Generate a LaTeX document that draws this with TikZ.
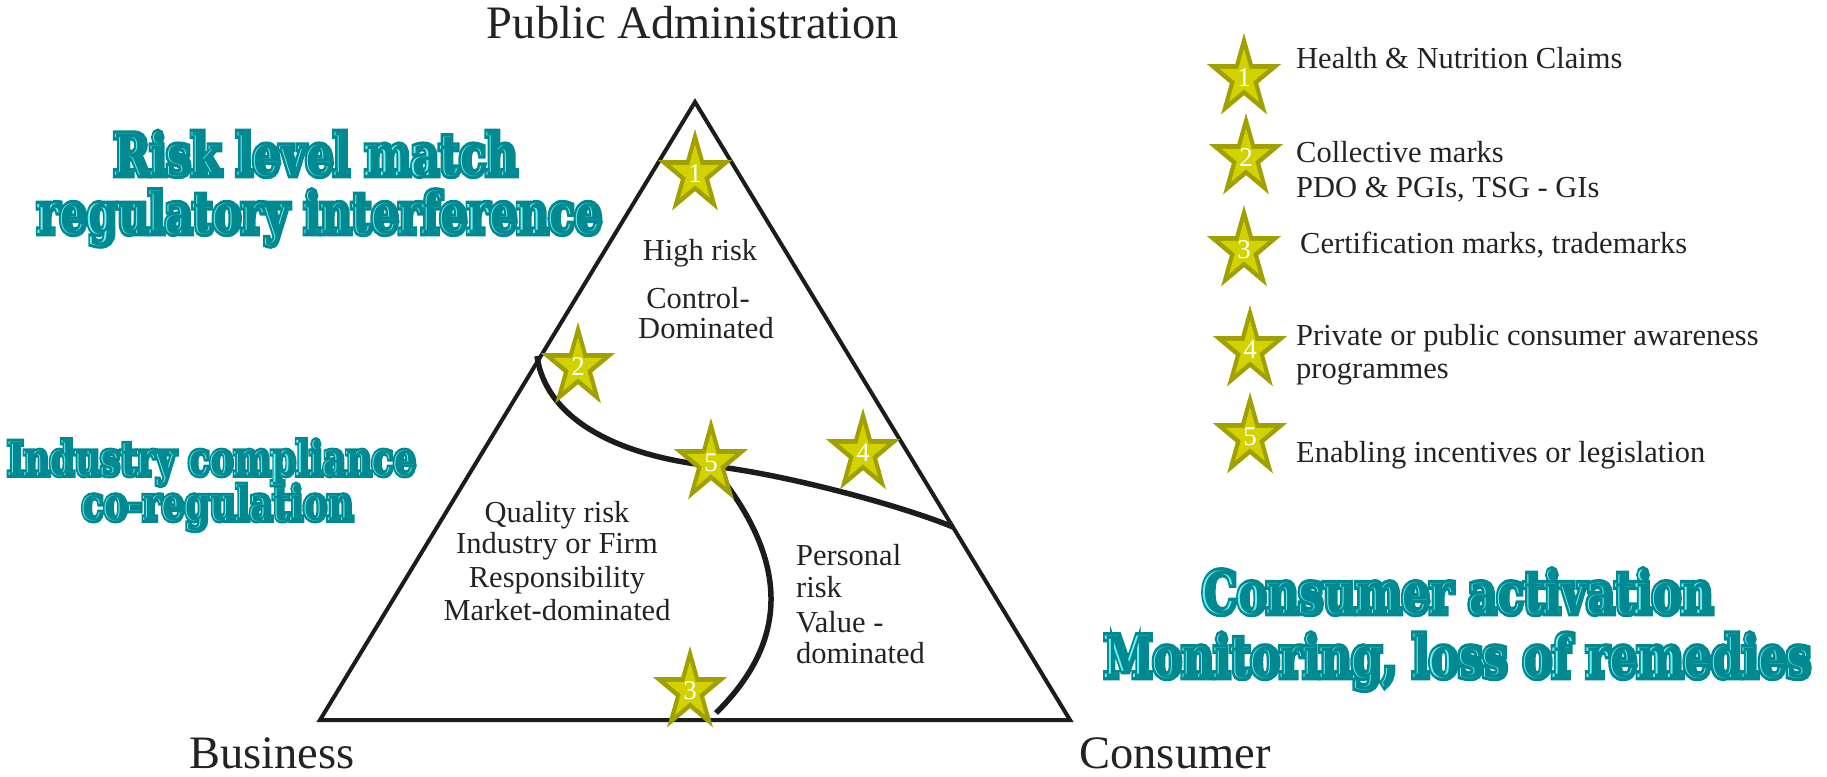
\documentclass[tikz,border=0pt]{standalone}
\usepackage{fontspec}
\setmainfont{Liberation Serif}
\newfontfamily\bkfont{DejaVu Serif}[UprightFont={* Bold}]
\newfontfamily\bkfat{DejaVu Serif}[UprightFont={* Bold},FakeBold=12]
\usepackage{graphicx}
\definecolor{lineC}{RGB}{28,28,28}
\definecolor{txtC}{RGB}{35,35,35}
\definecolor{tealD}{RGB}{0,137,145}
\definecolor{tealL}{RGB}{110,240,240}
\definecolor{starD}{RGB}{160,160,0}
\definecolor{starL}{RGB}{210,210,0}
\newcommand\tl[3]{\scalebox{1}[#2]{\fontsize{#1}{#1}\selectfont\rlap{\color{tealD}\bkfat #3}\rlap{\color{tealL}\bkfont #3}\hspace*{1.2pt}\raisebox{-0.7pt}{\color{tealD}\bkfont #3}}}
\newcommand\starpts[4]{(-90:#1 and #2) -- (-54:#3 and #4) -- (-18:#1 and #2) -- (18:#3 and #4) -- (54:#1 and #2) -- (90:#3 and #4) -- (126:#1 and #2) -- (162:#3 and #4) -- (198:#1 and #2) -- (234:#3 and #4) -- cycle}
\newcommand\mstar[4]{%
  \begin{scope}[shift={(#2,#3)}]
    \fill[starD] \starpts{39}{45}{14.9}{17.2};
    \fill[starL] \starpts{25.5}{29.5}{9.7}{11.3};
  \end{scope}
  \node[starnum] (#1) at (#2,#3) {#4};}
\tikzset{
  tri/.style={draw=lineC, line width=4, line join=miter},
  curveline/.style={draw=lineC, line width=5.5},
  pal/.style={font=\fontsize{30.5}{34}\selectfont, text=txtC, inner sep=0, anchor=base},
  palL/.style={pal, anchor=base west},
  big/.style={font=\fontsize{46.5}{50}\selectfont, text=txtC, inner sep=0, anchor=base},
  starnum/.style={font=\fontsize{27}{27}\selectfont, text=white, inner sep=0},
  tealtxt/.style={inner sep=0, anchor=base},
}
\begin{document}
\begin{tikzpicture}[x=1pt,y=-1pt]
\useasboundingbox (0,0) rectangle (1827,776);
% triangle
\coordinate (A) at (695,102);
\coordinate (B) at (320,720);
\coordinate (C) at (1070,720);
\draw[tri] (A) -- (B) -- (C) -- cycle;
% curves
\coordinate (p1) at (537,356);
\coordinate (p2) at (712,466);
\coordinate (p3) at (953,527);
\coordinate (p4) at (716,713);
\draw[curveline] (p1) .. controls (545,415) and (610,455) .. (p2) .. controls (783,474) and (900,505) .. (p3);
\draw[curveline] (p2) .. controls (790,560) and (790,640) .. (p4);
% stars in triangle
\mstar{s1}{695}{174}{1}
\mstar{s2}{578}{367}{2}
\mstar{s5}{711}{463}{5}
\mstar{s4}{863}{453}{4}
\mstar{s3}{690}{691}{3}
% legend stars
\mstar{k1}{1244}{78}{1}
\mstar{k2}{1246}{158}{2}
\mstar{k3}{1244}{250}{3}
\mstar{k4}{1250}{350}{4}
\mstar{k5}{1250}{437}{5}
% corner labels
\node[big] (pa) at (693,38) {Public Administration};
\node[big] (bu) at (272,768) {Business};
\node[big] (co) at (1175,768) {Consumer};
% inside texts
\node[pal] (h1) at (700,260) {High risk};
\node[pal] (h2) at (698,308) {Control-};
\node[pal] (h3) at (706,338) {Dominated};
\node[pal] (q1) at (557,522) {Quality risk};
\node[pal] (q2) at (557,553) {Industry or Firm};
\node[pal] (q3) at (557,587) {Responsibility};
\node[pal] (q4) at (557,620) {Market-dominated};
\node[palL] (v1) at (796,565) {Personal};
\node[palL] (v2) at (796,597) {risk};
\node[palL] (v3) at (796,632) {Value -};
\node[palL] (v4) at (796,663) {dominated};
% legend texts
\node[palL] (t1) at (1296,68) {Health \& Nutrition Claims};
\node[palL] (t2a) at (1296,162) {Collective marks};
\node[palL] (t2b) at (1296,197) {PDO \& PGIs, TSG - GIs};
\node[palL] (t3) at (1300,253) {Certification marks, trademarks};
\node[palL] (t4a) at (1296,345) {Private or public consumer awareness};
\node[palL] (t4b) at (1296,378) {programmes};
\node[palL] (t5) at (1296,462) {Enabling incentives or legislation};
% teal headings
\node[tealtxt] (r1) at (316,175) {\tl{43.5}{1.3}{Risk level match}};
\node[tealtxt] (r2) at (320,233) {\tl{43}{1.3}{regulatory interference}};
\node[tealtxt] (i1) at (212,475) {\tl{35.5}{1.3}{Industry compliance}};
\node[tealtxt] (i2) at (218,520) {\tl{36}{1.3}{co-regulation}};
\node[tealtxt] (c1) at (1458,613) {\tl{44}{1.3}{Consumer activation}};
\node[tealtxt] (c2) at (1458,677) {\tl{43.8}{1.3}{Monitoring, loss of remedies}};
\end{tikzpicture}
\end{document}
